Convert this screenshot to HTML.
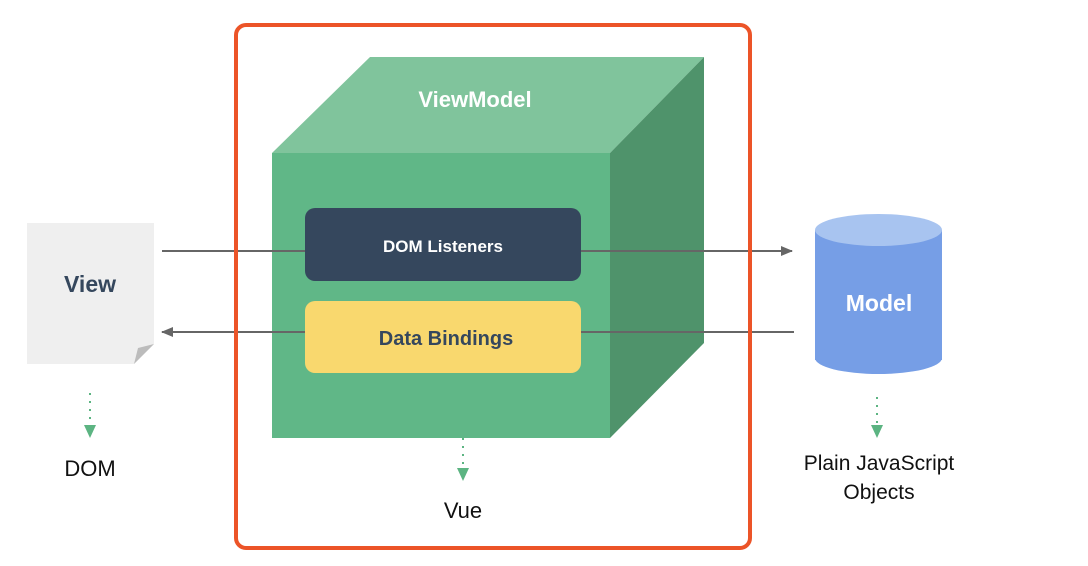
<!DOCTYPE html>
<html><head><style>
body{margin:0;background:#fff;}
svg{display:block;font-family:"Liberation Sans",sans-serif;}
</style></head><body>
<svg width="1088" height="566" viewBox="0 0 1088 566">
<defs>
<marker id="ah" markerWidth="12" markerHeight="10" refX="11" refY="5" orient="auto" markerUnits="userSpaceOnUse"><path d="M0,0 L12,5 L0,10 Z" fill="#666"/></marker>
</defs>
<!-- cube -->
<polygon points="272,153 370,57 704,57 610,153" fill="#80c49c"/>
<polygon points="610,153 704,57 704,343 610,438" fill="#4f936b"/>
<rect x="272" y="153" width="338" height="285" fill="#60b787"/>
<text x="475" y="107" font-size="22" font-weight="bold" fill="#fff" text-anchor="middle">ViewModel</text>
<!-- view doc -->
<polygon points="27,223 154,223 154,344 134,364 27,364" fill="#efefef"/>
<polygon points="154,344 134,364 138,348" fill="#bcbcbc"/>
<text x="90" y="292" font-size="23" font-weight="bold" fill="#35475d" text-anchor="middle">View</text>
<!-- arrows -->
<line x1="162" y1="251" x2="792" y2="251" stroke="#666" stroke-width="2" marker-end="url(#ah)"/>
<line x1="794" y1="332" x2="162" y2="332" stroke="#666" stroke-width="2" marker-end="url(#ah)"/>
<!-- boxes -->
<rect x="305" y="208" width="276" height="73" rx="10" fill="#35475d"/>
<text x="443" y="252" font-size="17" font-weight="bold" fill="#fff" text-anchor="middle">DOM Listeners</text>
<rect x="305" y="301" width="276" height="72" rx="10" fill="#f9d86e"/>
<text x="446" y="345" font-size="20" font-weight="bold" fill="#35475d" text-anchor="middle">Data Bindings</text>
<!-- cylinder -->
<rect x="815" y="230" width="127" height="130" fill="#769ee6"/>
<ellipse cx="878.5" cy="358" rx="63.5" ry="16" fill="#769ee6"/>
<ellipse cx="878.5" cy="230" rx="63.5" ry="16" fill="#a8c4f0"/>
<text x="879" y="311" font-size="23" font-weight="bold" fill="#fff" text-anchor="middle">Model</text>
<!-- red box -->
<rect x="236" y="25" width="514" height="523" rx="10" fill="none" stroke="#ec5428" stroke-width="4"/>
<!-- dotted -->
<line x1="90" y1="393" x2="90" y2="424" stroke="#5cb482" stroke-width="2" stroke-dasharray="2,6"/>
<polygon points="84,425 96,425 90,438" fill="#5cb482"/>
<line x1="463" y1="438" x2="463" y2="467" stroke="#5cb482" stroke-width="2" stroke-dasharray="2,6"/>
<polygon points="457,468 469,468 463,481" fill="#5cb482"/>
<line x1="877" y1="397" x2="877" y2="424" stroke="#5cb482" stroke-width="2" stroke-dasharray="2,6"/>
<polygon points="871,425 883,425 877,438" fill="#5cb482"/>
<text x="90" y="476" font-size="22" fill="#111" text-anchor="middle">DOM</text>
<text x="463" y="518" font-size="22" fill="#111" text-anchor="middle">Vue</text>
<text x="879" y="470" font-size="21" fill="#111" text-anchor="middle">Plain JavaScript</text>
<text x="879" y="499" font-size="21" fill="#111" text-anchor="middle">Objects</text>
</svg>
</body></html>
